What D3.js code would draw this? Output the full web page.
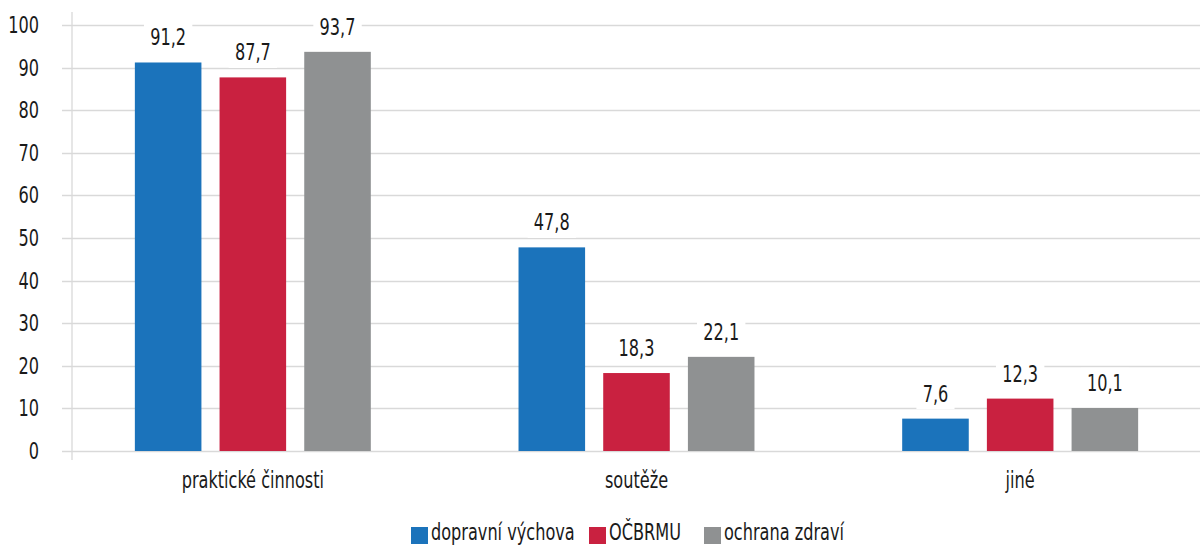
<!DOCTYPE html>
<html>
<head>
<meta charset="utf-8">
<title>Aktivity</title>
<script src="https://cdn.jsdelivr.net/npm/d3@7"></script>
<style>
  body { margin: 0; background: #fff; }
  svg { display: block; }
  text { font-family: "DejaVu Sans Condensed", "Liberation Sans", sans-serif; fill: #1a1a1a; font-size: 23px; }
</style>
</head>
<body>
<div id="chart"></div>
<script>
// data
var categories = ['praktické činnosti', 'soutěže', 'jiné'];
var seriesNames = ['dopravní výchova', 'OČBRMU', 'ochrana zdraví'];
var dopravni = [91.2, 47.8, 7.6];
var ocbrmu = [87.7, 18.3, 12.3];
var ochrana = [93.7, 22.1, 10.1];
var yTicks = [0, 10, 20, 30, 40, 50, 60, 70, 80, 90, 100];
var colors = ['#1b73bb', '#c92140', '#8f9192'];

var values = [dopravni, ocbrmu, ochrana];
var W = 1200, H = 546;
var SX = 0.78; // squeeze text horizontally, the original uses a condensed face

var svg = d3.select('#chart').append('svg')
  .attr('width', W).attr('height', H);

function place(x, y){ return 'translate(' + x + ',' + y + ') scale(' + SX + ',1)'; }

var x0 = d3.scaleBand()
  .domain(categories)
  .range([61, 1212])
  .paddingInner(0.385)
  .paddingOuter(0.1925);

var x1 = d3.scaleBand()
  .domain(d3.range(seriesNames.length))
  .range([0, x0.bandwidth()])
  .paddingInner(0.214);

var y = d3.scaleLinear().domain([0, 100]).range([451, 25]);

var fmt = function(v){ return v.toFixed(1).replace('.', ','); };

// grid
svg.append('g').selectAll('line')
  .data(yTicks).enter().append('line')
    .attr('x1', 62).attr('x2', W)
    .attr('y1', function(d){ return Math.round(y(d)) + 0.5; })
    .attr('y2', function(d){ return Math.round(y(d)) + 0.5; })
    .attr('stroke', '#d9d9d9').attr('stroke-width', 1.3);

svg.append('line')
  .attr('x1', 72).attr('x2', 72).attr('y1', 12).attr('y2', 460)
  .attr('stroke', '#d9d9d9').attr('stroke-width', 1.3);

// y labels
svg.append('g').selectAll('text')
  .data(yTicks).enter().append('text')
    .attr('transform', function(d){ return place(39, y(d) + 8); })
    .attr('text-anchor', 'end')
    .text(function(d){ return d; });

// bars
var groups = svg.append('g').selectAll('g')
  .data(categories).enter().append('g')
    .attr('transform', function(d){ return 'translate(' + x0(d) + ',0)'; });

groups.selectAll('rect')
  .data(function(d, i){ return values.map(function(s, k){ return {k: k, v: s[i]}; }); })
  .enter().append('rect')
    .attr('x', function(d){ return x1(d.k); })
    .attr('width', x1.bandwidth())
    .attr('y', function(d){ return y(d.v); })
    .attr('height', function(d){ return y(0) - y(d.v); })
    .attr('fill', function(d){ return colors[d.k]; });

// value labels with white backing
var lab = groups.selectAll('g.lab')
  .data(function(d, i){ return values.map(function(s, k){ return {k: k, v: s[i]}; }); })
  .enter().append('g').attr('class', 'lab')
    .attr('transform', function(d){ return place(x1(d.k) + x1.bandwidth() / 2, y(d.v) - 17); });

lab.append('text')
  .attr('text-anchor', 'middle')
  .text(function(d){ return fmt(d.v); })
  .each(function(){
    var b = this.getBBox();
    d3.select(this.parentNode).insert('rect', 'text')
      .attr('x', b.x - 8).attr('y', b.y - 2)
      .attr('width', b.width + 16).attr('height', b.height + 4)
      .attr('fill', '#fff');
  });

// category labels
svg.append('g').selectAll('text')
  .data(categories).enter().append('text')
    .attr('transform', function(d){ return place(x0(d) + x0.bandwidth() / 2, 488); })
    .attr('text-anchor', 'middle')
    .text(function(d){ return d; });

// legend
var legX = [411, 589, 704];
var leg = svg.append('g').selectAll('g')
  .data(seriesNames).enter().append('g')
    .attr('transform', function(d, i){ return 'translate(' + legX[i] + ',527)'; });
leg.append('rect').attr('width', 17).attr('height', 17)
  .attr('fill', function(d, i){ return colors[i]; });
leg.append('text')
  .attr('transform', place(20, 13))
  .text(function(d){ return d; });
</script>
</body>
</html>
